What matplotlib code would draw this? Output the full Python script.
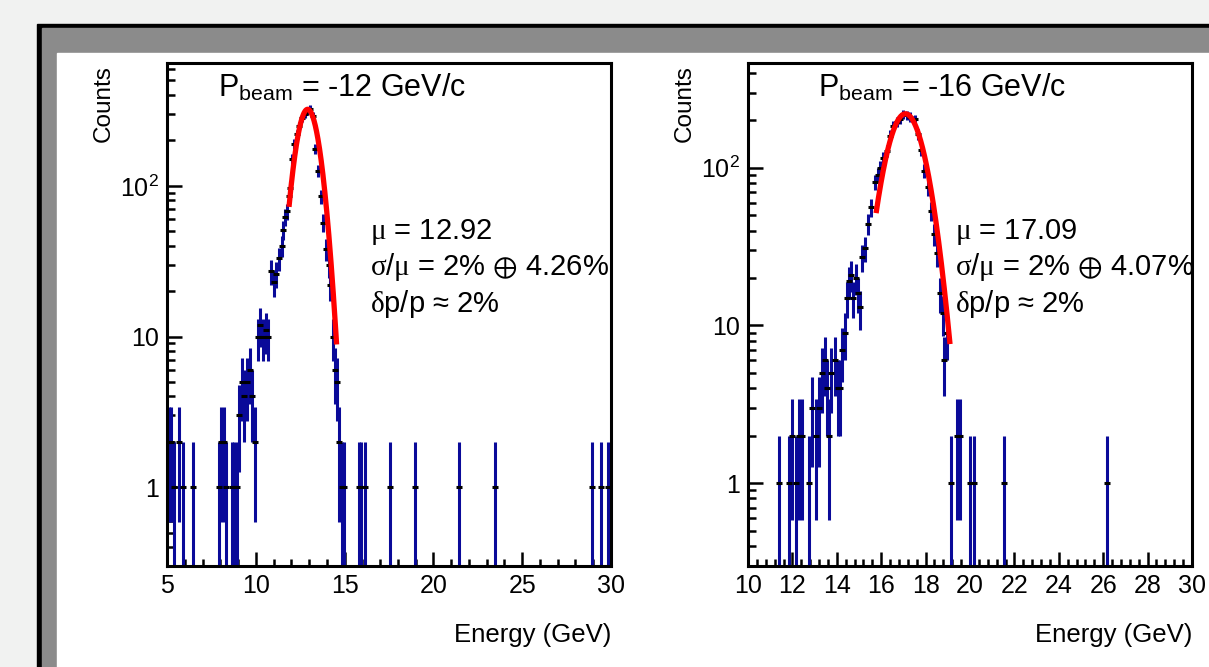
import numpy as np
import matplotlib.pyplot as plt
from matplotlib.patches import Rectangle
from matplotlib.ticker import LogLocator, MultipleLocator, FixedLocator, NullFormatter, FixedFormatter

plt.rcParams['font.family'] = ['Liberation Sans', 'DejaVu Sans']
plt.rcParams['mathtext.fontset'] = 'custom'
plt.rcParams['mathtext.rm'] = 'Liberation Sans'
plt.rcParams['mathtext.it'] = 'Liberation Serif'
plt.rcParams['mathtext.fallback'] = 'stix'

# -12 GeV/c run : bin centre (GeV), counts
e12 = [5.10, 5.25, 5.40, 5.70, 5.90, 6.45, 7.90, 8.05, 8.20, 8.35, 8.65, 8.80, 8.95,
       9.05, 9.20, 9.35, 9.50, 9.65, 9.80, 9.95, 10.10, 10.25, 10.40, 10.55, 10.70,
       10.85, 11.00, 11.15, 11.30, 11.45, 11.55, 11.65, 11.75, 11.85, 11.95, 12.05,
       12.15, 12.30, 12.45, 12.60, 12.75, 12.90, 13.05, 13.20, 13.35, 13.50, 13.65,
       13.80, 13.95, 14.10, 14.20, 14.35, 14.45, 14.55, 14.70, 14.85, 14.95, 15.80,
       15.95, 16.15, 17.55, 18.95, 21.45, 23.45, 28.95, 29.45, 29.85]
n12 = [2, 2, 1, 2, 1, 1, 1, 2, 2, 1, 1, 1, 1,
       3, 5, 4, 5, 6, 4, 2, 10, 12, 10, 11, 10,
       27, 23, 26, 33, 40, 51, 62, 68, 86, 97, 150,
       190, 220, 250, 280, 300, 315, 325, 290, 175, 126, 85,
       57, 38, 30, 22, 10, 6, 5, 2, 1, 1, 1,
       1, 1, 1, 1, 1, 1, 1, 1, 1]

# -16 GeV/c run
e16 = [11.40, 11.85, 12.00, 12.15, 12.30, 12.45, 12.75, 12.90, 13.05, 13.20, 13.35,
       13.45, 13.55, 13.65, 13.75, 13.90, 14.05, 14.15, 14.25, 14.35, 14.45, 14.55,
       14.65, 14.75, 14.85, 14.95, 15.05, 15.15, 15.25, 15.40, 15.55, 15.70, 15.85,
       15.95, 16.10, 16.25, 16.40, 16.55, 16.70, 16.85, 17.00, 17.15, 17.30, 17.50,
       17.65, 17.80, 17.95, 18.10, 18.25, 18.40, 18.50, 18.65, 18.80, 18.85, 18.95,
       19.15, 19.40, 19.55, 20.00, 20.20, 21.55, 26.15]
n16 = [1, 1, 2, 1, 2, 2, 1, 3, 2, 3, 5,
       6, 4, 2, 5, 6, 4, 4, 7, 9, 15, 19,
       21, 15, 20, 16, 13, 27, 31, 44, 56, 81, 90,
       100, 115, 128, 160, 184, 195, 205, 219, 215, 210, 203,
       163, 130, 96, 75, 53, 38, 29, 16, 12, 6, 9,
       1, 2, 2, 1, 1, 1, 1]

# gaussian fits: mean, sigma, amplitude, fit range
fit12 = (12.92, 0.608, 322, 11.87, 14.55)
fit16 = (17.09, 0.775, 220, 15.77, 19.10)

titles = ['P$_{\\mathrm{beam}}$ = -12 GeV/c', 'P$_{\\mathrm{beam}}$ = -16 GeV/c']
stats = [['$\\mu$ = 12.92', '$\\sigma/\\mu$ = 2% $\\oplus$ 4.26%', '$\\delta$p/p ≈ 2%'],
         ['$\\mu$ = 17.09', '$\\sigma/\\mu$ = 2% $\\oplus$ 4.07%', '$\\delta$p/p ≈ 2%']]

W, H = 1209, 667
fig = plt.figure(figsize=(W / 100, H / 100), dpi=100)
fig.patch.set_facecolor('#f1f2f1')

# canvas frame like a screenshot of a ROOT window
def px_rect(x0, y0, x1, y1, c):
    fig.patches.append(Rectangle((x0 / W, 1 - y1 / H), (x1 - x0) / W, (y1 - y0) / H,
                                 transform=fig.transFigure, color=c, zorder=-10))

px_rect(37, 24, W + 5, H + 5, 'black')
px_rect(42, 28, W + 5, H + 5, '#8b8b8b')
px_rect(57, 53, W + 5, H + 5, 'white')

ax1 = fig.add_axes([167 / W, 1 - 566 / H, 444 / W, 503 / H])
ax2 = fig.add_axes([748 / W, 1 - 566 / H, 444 / W, 503 / H])
ax1.set_zorder(5)
ax2.set_zorder(5)


def draw(ax, e, n, fit, xlim, ylim, xmaj, xmin, title, lines, tx, sx):
    e = np.array(e, float)
    n = np.array(n, float)
    ax.set_yscale('log')
    ax.set_xlim(*xlim)
    ax.set_ylim(*ylim)
    lo = np.maximum(n - np.sqrt(n), ylim[0] * 0.5)
    hi = n + np.sqrt(n)
    ax.vlines(e, lo, hi, color='#0a0a99', lw=2.2, zorder=2)
    ax.plot(e, n, ls='none', marker='_', ms=4, mew=2.2, color='black', zorder=3)
    mu, sig, amp, a, b = fit
    xf = np.linspace(a, b, 300)
    ax.plot(xf, amp * np.exp(-0.5 * ((xf - mu) / sig) ** 2), color='red', lw=3.8,
            solid_capstyle='butt', zorder=4)

    ax.xaxis.set_major_locator(MultipleLocator(xmaj))
    ax.xaxis.set_minor_locator(MultipleLocator(xmin))
    ax.yaxis.set_major_locator(FixedLocator([1, 10, 100]))
    ax.yaxis.set_major_formatter(FixedFormatter(['1', '10', '$\\mathregular{10^{2}}$']))
    ax.yaxis.set_minor_locator(LogLocator(base=10, subs=np.arange(2, 10), numticks=20))
    ax.yaxis.set_minor_formatter(NullFormatter())
    ax.tick_params(axis='x', which='major', direction='in', length=10, width=1.8,
                   labelsize=18, pad=6, top=False)
    ax.tick_params(axis='x', which='minor', direction='in', length=5, width=1.8, top=False)
    ax.tick_params(axis='y', which='major', direction='in', length=11, width=1.8,
                   labelsize=18, pad=6, right=False)
    ax.tick_params(axis='y', which='minor', direction='in', length=5.5, width=1.8, right=False)
    for s in ax.spines.values():
        s.set_linewidth(2.2)

    ax.text(-0.143, 0.995, 'Counts', transform=ax.transAxes, rotation=90,
            ha='center', va='top', fontsize=17.5)
    ax.text(1.0, -0.137, 'Energy (GeV)', transform=ax.transAxes,
            ha='right', va='center', fontsize=18.5)
    ax.text(tx, 0.95, title, transform=ax.transAxes, ha='left', va='center', fontsize=22)
    for ys, t in zip([0.664, 0.594, 0.521], lines):
        ax.text(sx, ys, t, transform=ax.transAxes, ha='left', va='center', fontsize=21)


draw(ax1, e12, n12, fit12, (5, 30), (0.3, 653), 5, 1, titles[0], stats[0], 0.115, 0.457)
draw(ax2, e16, n16, fit16, (10, 30), (0.298, 462), 2, 0.4, titles[1], stats[1], 0.158, 0.466)

fig.savefig('out.png', dpi=100, facecolor=fig.get_facecolor())
